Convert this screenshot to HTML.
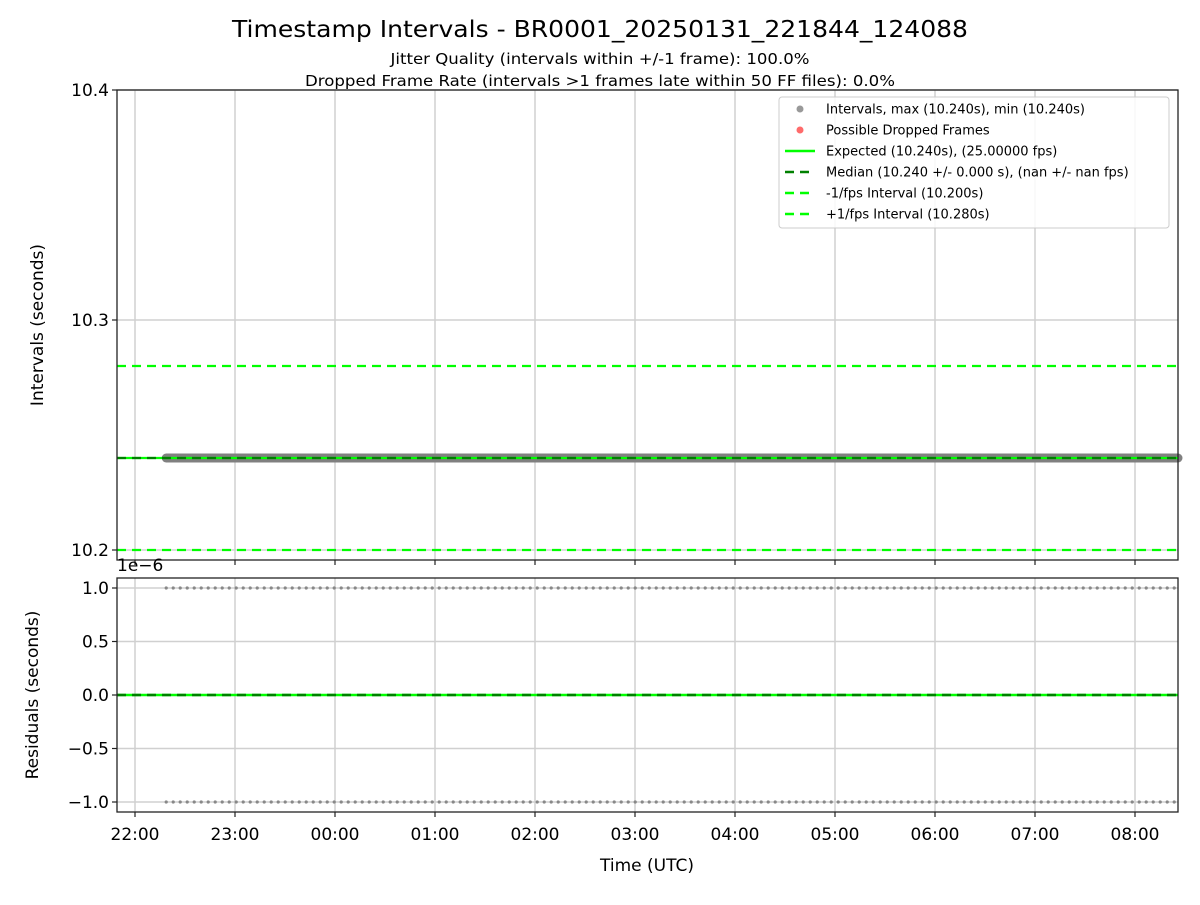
<!DOCTYPE html>
<html><head><meta charset="utf-8"><style>
body{margin:0;background:#fff;font-family:"Liberation Sans","DejaVu Sans",sans-serif}
svg text{font-family:"DejaVu Sans","Liberation Sans",sans-serif}
</style></head><body>
<svg id="c" width="1200" height="900" xmlns="http://www.w3.org/2000/svg">
<rect width="1200" height="900" fill="#fff"/>
<text x="600" y="37" font-size="23" text-anchor="middle" textLength="736" lengthAdjust="spacingAndGlyphs">Timestamp Intervals - BR0001_20250131_221844_124088</text>
<text x="600" y="64" font-size="15" text-anchor="middle" textLength="419" lengthAdjust="spacingAndGlyphs">Jitter Quality (intervals within +/-1 frame): 100.0%</text>
<text x="600" y="86" font-size="15" text-anchor="middle" textLength="590" lengthAdjust="spacingAndGlyphs">Dropped Frame Rate (intervals &gt;1 frames late within 50 FF files): 0.0%</text>
<g id="topPlot"></g>
<g id="botPlot"></g>
</svg>
<script>
const xTickLabels=["22:00","23:00","00:00","01:00","02:00","03:00","04:00","05:00","06:00","07:00","08:00"];
const xTickHours=[22,23,24,25,26,27,28,29,30,31,32];
const dataStartHour=22+18.73/60;
const dataEndHour=32.43;
const xMinHour=21+49.2/60, xMaxHour=32+25.8/60;
const topTicks=[10.2,10.3,10.4];
const topLabels=["10.2","10.3","10.4"];
const intervalValue=[10.24];
const expected=[10.24];
const median=[10.24];
const minusFps=[10.2];
const plusFps=[10.28];
const botTicks=[-1,-0.5,0,0.5,1];
const botLabels=["\u22121.0","\u22120.5","0.0","0.5","1.0"];
const residualLevels=[1,-1,0];
const NS="http://www.w3.org/2000/svg";
function el(p,t,a){const e=document.createElementNS(NS,t);for(const k in a)e.setAttribute(k,a[k]);p.appendChild(e);return e;}
const L=117,R=1178;
const x=h=>L+(h-xMinHour)/(xMaxHour-xMinHour)*(R-L);
const yT=v=>550-(v-10.2)*2300;
const yB=v=>695-v*107;
const gTop=document.getElementById('topPlot'), gBot=document.getElementById('botPlot');
function grid(g,yf,ticks,labels,T,B){
  xTickHours.forEach(h=>{const l=el(g,'line',{x1:x(h),x2:x(h),y1:T,y2:B,stroke:'#d0d0d0','stroke-width':1.5});
  
  });
  ticks.forEach((v,i)=>{const l=el(g,'line',{x1:L,x2:R,y1:yf(v),y2:yf(v),stroke:'#d0d0d0','stroke-width':1.5});
  
  
  el(g,'line',{x1:L-5,x2:L,y1:yf(v),y2:yf(v),stroke:'#222','stroke-width':1.2});
  const t=el(g,'text',{x:L-8,y:yf(v)+6,'font-size':17,'text-anchor':'end'});t.textContent=labels[i];
  
  });
  xTickHours.forEach(h=>el(g,'line',{x1:x(h),x2:x(h),y1:B,y2:B+5,stroke:'#222','stroke-width':1.2}));
}
grid(gTop,yT,topTicks,topLabels,90,560);
const band=el(gTop,'line',{x1:x(dataStartHour),x2:R,y1:yT(intervalValue[0]),y2:yT(intervalValue[0]),stroke:'#808080','stroke-width':9,'stroke-linecap':'round'});


[[expected[0],'#00ff00','', 'expected-line'],[median[0],'#008000','9,6','median-line'],[minusFps[0],'#00ff00','9,6','minus-fps-line'],[plusFps[0],'#00ff00','9,6','plus-fps-line']].forEach(a=>{
  const l=el(gTop,'line',{x1:L,x2:R,y1:yT(a[0]),y2:yT(a[0]),stroke:a[1],'stroke-width':2.2,'stroke-dasharray':a[2]});
  
  
});
el(gTop,'rect',{x:L,y:90,width:R-L,height:470,fill:'none',stroke:'#222','stroke-width':1.3});
const yl=el(gTop,'text',{x:43,y:325,'font-size':17,'text-anchor':'middle',transform:'rotate(-90 43 325)'});yl.textContent='Intervals (seconds)';


const lg=el(gTop,'g',{});


el(lg,'rect',{x:779,y:97,width:390,height:131,rx:3,fill:'#fff','fill-opacity':0.85,stroke:'#ccc'});
const items=[['dot','#999','Intervals, max (10.240s), min (10.240s)'],['dot','#ff6b6b','Possible Dropped Frames'],['line','#00ff00','Expected (10.240s), (25.00000 fps)'],['dash','#008000','Median (10.240 +/- 0.000 s), (nan +/- nan fps)'],['dash','#00ff00','-1/fps Interval (10.200s)'],['dash','#00ff00','+1/fps Interval (10.280s)']];
items.forEach((it,i)=>{const y=109+i*21;
  if(it[0]=='dot')el(lg,'circle',{cx:800,cy:y,r:3.5,fill:it[1]});
  else el(lg,'line',{x1:785,x2:815,y1:y,y2:y,stroke:it[1],'stroke-width':2.5,'stroke-dasharray':it[0]=='dash'?'9,6':''});
  const t=el(lg,'text',{x:826,y:y+4.5,'font-size':13});t.textContent=it[2];
  
  });
grid(gBot,yB,botTicks,botLabels,578,812);
residualLevels.slice(0,2).forEach(v=>{
  for(let h=dataStartHour;h<=dataEndHour;h+=0.07){const c=el(gBot,'circle',{cx:x(h),cy:yB(v),r:1.6,fill:'#888'});
  
  }
});
const z1=el(gBot,'line',{x1:L,x2:R,y1:yB(0),y2:yB(0),stroke:'#00ff00','stroke-width':2.5});


const z2=el(gBot,'line',{x1:L,x2:R,y1:yB(0),y2:yB(0),stroke:'#008000','stroke-width':2.5,'stroke-dasharray':'9,6'});


el(gBot,'rect',{x:L,y:578,width:R-L,height:234,fill:'none',stroke:'#222','stroke-width':1.3});
const off=el(gBot,'text',{x:117,y:571,'font-size':17});off.textContent='1e\u22126';


xTickHours.forEach((h,i)=>{const t=el(gBot,'text',{x:x(h),y:840,'font-size':17,'text-anchor':'middle'});t.textContent=xTickLabels[i];
  
  });
const xt=el(gBot,'text',{x:647,y:871,'font-size':17,'text-anchor':'middle'});xt.textContent='Time (UTC)';


const yb=el(gBot,'text',{x:38,y:695,'font-size':17,'text-anchor':'middle',transform:'rotate(-90 38 695)'});yb.textContent='Residuals (seconds)';


</script>
</body></html>
